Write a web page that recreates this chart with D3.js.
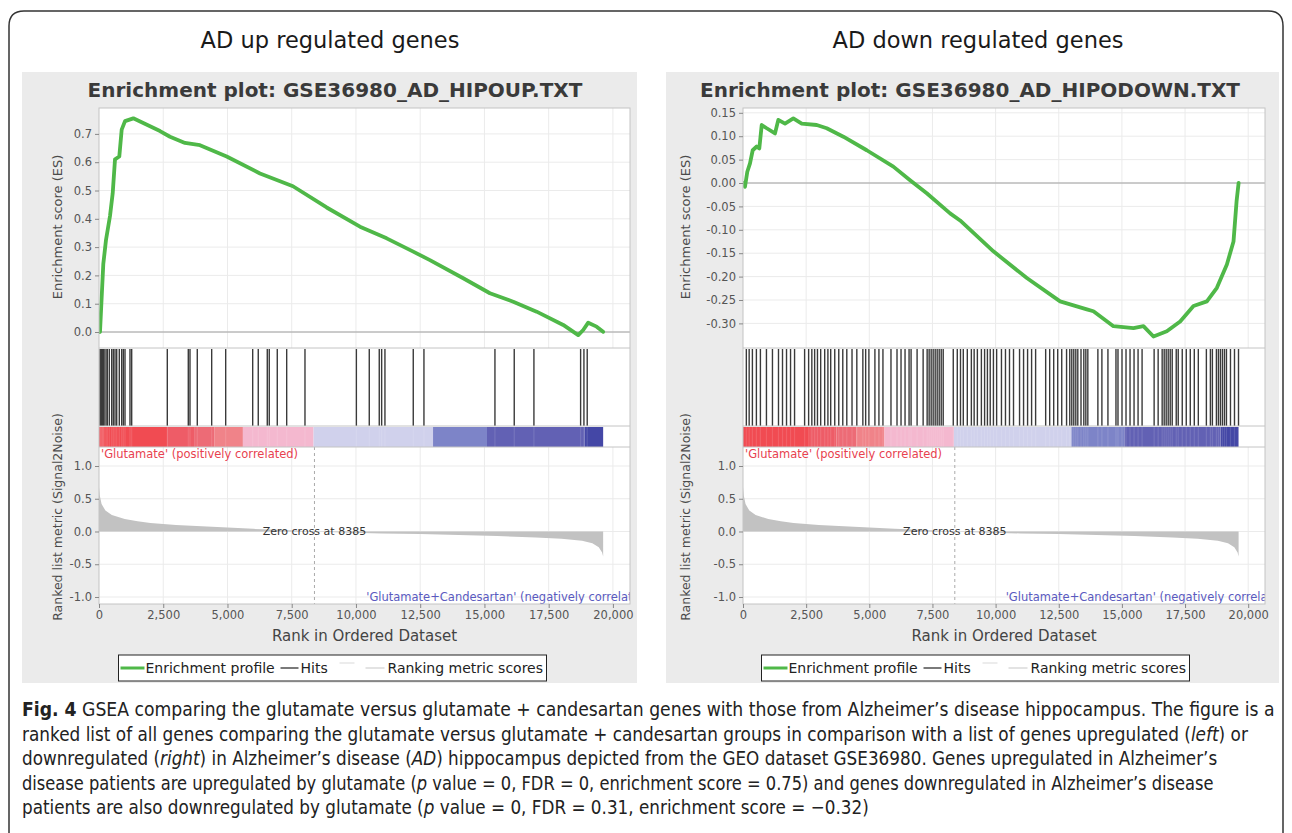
<!DOCTYPE html>
<html>
<head>
<meta charset="utf-8">
<script src="https://cdn.jsdelivr.net/npm/d3@7"></script>
<style>
  body { margin: 0; background: #fff; }
  text { font-family: "DejaVu Sans", sans-serif; }
</style>
</head>
<body>
<svg id="chart" width="1292" height="833"></svg>
<script>
// ---- data ----
const rankTicks = [0, 2500, 5000, 7500, 10000, 12500, 15000, 17500, 20000];
const upTicks = [0, 0.1, 0.2, 0.3, 0.4, 0.5, 0.6, 0.7];
const downTicks = [-0.30, -0.25, -0.20, -0.15, -0.10, -0.05, 0, 0.05, 0.10, 0.15];
const metricTicks = [-1, -0.5, 0, 0.5, 1];
const zeroCross = 8385;

// running enrichment score, [rank, ES]
const upES = [[0, 0], [39, 0.0], [105, 0.125], [167, 0.24], [272, 0.325], [428, 0.41], [533, 0.49],
  [623, 0.61], [790, 0.62], [883, 0.715], [1012, 0.745], [1335, 0.755], [2374, 0.71], [2763, 0.69],
  [3346, 0.668], [3930, 0.66], [4969, 0.62], [6265, 0.56], [7549, 0.515], [8860, 0.44], [10156, 0.372],
  [11195, 0.331], [12230, 0.284], [12879, 0.254], [14175, 0.19], [15214, 0.137], [16121, 0.107],
  [17031, 0.072], [18066, 0.025], [18650, -0.011], [18844, 0.007], [19039, 0.033], [19366, 0.019], [19620, 0.001]];

const downES = [[0, 0], [79, -0.008], [170, 0.024], [277, 0.042], [384, 0.07], [543, 0.078], [646, 0.074],
  [741, 0.124], [939, 0.117], [1267, 0.106], [1398, 0.135], [1663, 0.127], [1992, 0.138], [2325, 0.127],
  [2919, 0.124], [3315, 0.117], [3972, 0.099], [4899, 0.07], [5952, 0.035], [6614, 0.006], [7275, -0.022],
  [8198, -0.065], [8594, -0.08], [9913, -0.146], [11236, -0.203], [12554, -0.253], [13612, -0.27],
  [13873, -0.274], [14665, -0.306], [15457, -0.31], [15853, -0.306], [16250, -0.328], [16778, -0.317],
  [17307, -0.296], [17834, -0.263], [18364, -0.253], [18760, -0.224], [19156, -0.174], [19418, -0.125],
  [19540, -0.039], [19620, 0.0]];

// gene set hit positions (rank)
const upHits = [39, 70, 105, 140, 167, 200, 272, 323, 401, 494, 556, 623, 689, 790, 883, 946, 1012, 1206, 1272,
  2658, 3475, 3541, 3825, 4385, 4930, 5981, 6198, 6549, 6626, 6938, 7304, 8016, 10016, 10518, 10907, 11000,
  11128, 12230, 12646, 15409, 16160, 16926, 18743, 18872, 19000];

const downHits = [132, 244, 372, 530, 689, 928, 1166, 1405, 1564, 1723, 1882, 2041, 2439, 2598, 2725, 2836,
  2948, 3075, 3234, 3361, 3472, 3632, 3791, 3950, 4109, 4316, 4506, 4745, 4856, 4984, 5222, 5381, 5540, 5858,
  6097, 6256, 6415, 6574, 6654, 6892, 7131, 7290, 7369, 7449, 7528, 7608, 7687, 7767, 7847, 7926, 8324, 8483,
  8610, 8721, 8880, 9040, 9151, 9278, 9437, 9564, 9676, 9787, 9914, 10041, 10232, 10391, 10550, 10709, 10948,
  11107, 11266, 11425, 11584, 11982, 12141, 12300, 12459, 12618, 12809, 12936, 13016, 13095, 13175, 13254,
  13381, 13492, 13572, 13651, 14049, 14208, 14447, 14765, 14845, 15004, 15163, 15322, 15481, 15640, 15799,
  16276, 16435, 16594, 16674, 16753, 16833, 16912, 16992, 17151, 17230, 17389, 17548, 17707, 17866, 18025,
  18344, 18503, 18582, 18741, 18821, 18900, 18980, 19060, 19139, 19298, 19457, 19616];

// ranked list metric (Signal2Noise), [rank, value]
const metric = [[0, 0.68], [30, 0.55], [100, 0.42], [250, 0.32], [500, 0.25], [1000, 0.19], [1500, 0.155],
  [2000, 0.13], [3000, 0.1], [4000, 0.08], [5000, 0.06], [6000, 0.04], [7000, 0.025], [8385, 0],
  [9500, -0.015], [11000, -0.03], [12500, -0.04], [14000, -0.055], [15500, -0.07], [17000, -0.09],
  [18000, -0.11], [18800, -0.14], [19200, -0.18], [19450, -0.24], [19580, -0.32], [19620, -0.38]];

// heat bar bands (rank edges)
const barEdges = [0, 2650, 3700, 4500, 5600, 8350, 13000, 15100, 18900, 19620];

const captionLines = [
  [["Fig. 4", "b"], [" GSEA comparing the glutamate versus glutamate + candesartan genes with those from Alzheimer\u2019s disease hippocampus. The figure is a", ""]],
  [["ranked list of all genes comparing the glutamate versus glutamate + candesartan groups in comparison with a list of genes upregulated (", ""], ["left", "i"], [") or", ""]],
  [["downregulated (", ""], ["right", "i"], [") in Alzheimer\u2019s disease (", ""], ["AD", "i"], [") hippocampus depicted from the GEO dataset GSE36980. Genes upregulated in Alzheimer\u2019s", ""]],
  [["disease patients are upregulated by glutamate (", ""], ["p", "i"], [" value = 0, FDR = 0, enrichment score = 0.75) and genes downregulated in Alzheimer\u2019s disease", ""]],
  [["patients are also downregulated by glutamate (", ""], ["p", "i"], [" value = 0, FDR = 0.31, enrichment score = \u22120.32)", ""]]
];

// ---- drawing ----
const barColors = ["#f14b52", "#ee5c67", "#ed6b76", "#f08389", "#f4b8cf", "#d0d1ec", "#7d84c8", "#6261b4", "#4447a6"];
const svg = d3.select("#chart");
const defs = svg.append("defs");

svg.append("rect").attr("width", 1292).attr("height", 833).attr("fill", "#fff");
svg.append("path")
  .attr("d", "M9,833 V26 Q9,11 24,11 H1268 Q1283,11 1283,26 V833")
  .attr("fill", "none").attr("stroke", "#333").attr("stroke-width", 1.5);

function styleAxis(sel) {
  sel.select(".domain").remove();
  sel.selectAll(".tick line").attr("stroke", "#888");
  sel.selectAll(".tick text").attr("fill", "#555").attr("font-size", 11.5)
    .attr("font-family", "DejaVu Sans, sans-serif");
}

function drawPanel(p) {
  const top = 108, esBottom = 348, hitsBottom = 426, barBottom = 447, bottom = 604;
  const x = d3.scaleLinear().domain([0, 20665]).range([p.left, p.right]);
  const yES = d3.scaleLinear().domain(p.esDomain).range([esBottom, top]);
  const yM = d3.scaleLinear().domain([-1.107, 1.29]).range([bottom, barBottom]);
  const g = svg.append("g");
  const cx = p.panelX + p.panelW / 2;

  // heading above panel
  svg.append("text").attr("x", p.headX).attr("y", 48).attr("text-anchor", "middle")
    .attr("font-family", "Open Sans, sans-serif").attr("font-size", 22.5).attr("fill", "#1a1a1a")
    .text(p.heading);

  g.append("rect").attr("x", p.panelX).attr("y", 72).attr("width", p.panelW).attr("height", 611)
    .attr("fill", "#ebebeb");
  g.append("text").attr("x", p.titleX).attr("y", 97).attr("text-anchor", "middle")
    .attr("font-weight", "bold").attr("font-size", 20).attr("fill", "#3a3a3a").text(p.title);

  g.append("rect").attr("x", p.left).attr("y", top).attr("width", p.right - p.left)
    .attr("height", bottom - top).attr("fill", "#fff");

  const clipES = "clipES-" + p.id, clipM = "clipM-" + p.id;
  defs.append("clipPath").attr("id", clipES).append("rect")
    .attr("x", p.left).attr("y", top).attr("width", p.right - p.left).attr("height", esBottom - top);
  defs.append("clipPath").attr("id", clipM).append("rect")
    .attr("x", p.left).attr("y", barBottom).attr("width", p.right - p.left).attr("height", bottom - barBottom);

  // grid
  const grid = g.append("g").attr("stroke", "#ebebeb").attr("stroke-width", 1);
  grid.selectAll(null).data(rankTicks.slice(1)).enter().append("line")
    .attr("x1", d => x(d)).attr("x2", d => x(d)).attr("y1", top).attr("y2", esBottom);
  grid.selectAll(null).data(p.esTicks).enter().append("line")
    .attr("x1", p.left).attr("x2", p.right).attr("y1", d => yES(d)).attr("y2", d => yES(d));
  grid.selectAll(null).data(rankTicks.slice(1)).enter().append("line")
    .attr("x1", d => x(d)).attr("x2", d => x(d)).attr("y1", barBottom).attr("y2", bottom);
  grid.selectAll(null).data(metricTicks).enter().append("line")
    .attr("x1", p.left).attr("x2", p.right).attr("y1", d => yM(d)).attr("y2", d => yM(d));

  // ES zero line
  g.append("line").attr("x1", p.left).attr("x2", p.right).attr("y1", yES(0)).attr("y2", yES(0))
    .attr("stroke", "#a0a0a0");

  // enrichment profile
  const line = d3.line().x(d => x(d[0])).y(d => yES(d[1]));
  g.append("path").datum(p.es).attr("d", line).attr("clip-path", `url(#${clipES})`)
    .attr("fill", "none").attr("stroke", "#4fb848").attr("stroke-width", 3.8)
    .attr("stroke-linejoin", "round").attr("stroke-linecap", "round");

  // hits
  g.append("g").selectAll(null).data(p.hits).enter().append("line")
    .attr("x1", d => x(d)).attr("x2", d => x(d)).attr("y1", esBottom + 1).attr("y2", hitsBottom)
    .attr("stroke", "#3a3a3a").attr("stroke-width", 1.4);

  // heat bar
  g.append("g").selectAll(null).data(barColors).enter().append("rect")
    .attr("x", (d, i) => x(barEdges[i])).attr("width", (d, i) => x(barEdges[i + 1]) - x(barEdges[i]))
    .attr("y", hitsBottom + 1).attr("height", barBottom - hitsBottom - 1).attr("fill", d => d);
  g.append("g").selectAll(null).data(p.hits).enter().append("line")
    .attr("x1", d => x(d)).attr("x2", d => x(d)).attr("y1", hitsBottom + 1).attr("y2", barBottom)
    .attr("stroke", "#fff").attr("stroke-opacity", 0.12).attr("stroke-width", 1.2);

  // metric area
  const area = d3.area().x(d => x(d[0])).y0(yM(0)).y1(d => yM(d[1]));
  g.append("path").datum(metric).attr("d", area).attr("fill", "#c2c2c2");

  g.append("line").attr("x1", x(zeroCross)).attr("x2", x(zeroCross)).attr("y1", barBottom).attr("y2", bottom)
    .attr("stroke", "#aaa").attr("stroke-dasharray", "3,3");
  g.append("text").attr("x", x(zeroCross)).attr("y", yM(0) + 4).attr("text-anchor", "middle")
    .attr("font-size", 11).attr("fill", "#333").text("Zero cross at " + zeroCross);

  g.append("text").attr("x", p.left + 2).attr("y", barBottom + 11).attr("font-size", 11.5)
    .attr("fill", "#e8424f").text("'Glutamate' (positively correlated)");
  g.append("text").attr("x", x(10400)).attr("y", yM(-1) + 4.5).attr("font-size", 11.5)
    .attr("fill", "#5a5abf").attr("clip-path", `url(#${clipM})`)
    .text("'Glutamate+Candesartan' (negatively correlated)");

  // frames
  const fr = g.append("g").attr("stroke", "#c4c4c4").attr("fill", "none");
  fr.append("rect").attr("x", p.left).attr("y", top).attr("width", p.right - p.left).attr("height", bottom - top);
  [esBottom, hitsBottom, barBottom].forEach(v => {
    fr.append("line").attr("x1", p.left).attr("x2", p.right).attr("y1", v).attr("y2", v);
  });

  // axes
  g.append("g").attr("transform", `translate(${p.left},0)`)
    .call(d3.axisLeft(yES).tickValues(p.esTicks).tickFormat(d => d.toFixed(p.digits)).tickSize(4).tickPadding(3))
    .call(styleAxis);
  g.append("g").attr("transform", `translate(${p.left},0)`)
    .call(d3.axisLeft(yM).tickValues(metricTicks).tickFormat(d => d.toFixed(1)).tickSize(4).tickPadding(3))
    .call(styleAxis);
  g.append("g").attr("transform", `translate(0,${bottom})`)
    .call(d3.axisBottom(x).tickValues(rankTicks).tickFormat(d3.format(",")).tickSize(4).tickPadding(3))
    .call(styleAxis);

  // axis titles
  g.append("text").attr("transform", `translate(${p.labelX},227) rotate(-90)`).attr("text-anchor", "middle")
    .attr("font-size", 13).attr("fill", "#4a4a4a").text("Enrichment score (ES)");
  g.append("text").attr("transform", `translate(${p.labelX},517) rotate(-90)`).attr("text-anchor", "middle")
    .attr("font-size", 12.5).attr("fill", "#4a4a4a").text("Ranked list metric (Signal2Noise)");
  g.append("text").attr("x", (p.left + p.right) / 2).attr("y", 641).attr("text-anchor", "middle")
    .attr("font-size", 15).attr("fill", "#444").text("Rank in Ordered Dataset");

  // legend
  const lx = cx + 3 - 214, ly = 668;
  const lg = g.append("g").attr("transform", `translate(${lx},${ly})`);
  lg.append("rect").attr("x", 0).attr("y", -13).attr("width", 428).attr("height", 26)
    .attr("fill", "#fff").attr("stroke", "#222");
  lg.append("line").attr("x1", 2).attr("x2", 26).attr("stroke", "#4fb848").attr("stroke-width", 3);
  lg.append("text").attr("x", 27).attr("y", 5).attr("font-size", 14).attr("fill", "#222").text("Enrichment profile");
  lg.append("line").attr("x1", 162).attr("x2", 180).attr("stroke", "#222").attr("stroke-width", 1.2);
  lg.append("text").attr("x", 182).attr("y", 5).attr("font-size", 14).attr("fill", "#222").text("Hits");
  lg.append("line").attr("x1", 221).attr("x2", 236).attr("y1", -5).attr("y2", -5).attr("stroke", "#e6e6e6").attr("stroke-width", 1.5);
  lg.append("line").attr("x1", 247).attr("x2", 266).attr("stroke", "#d0d0d0").attr("stroke-width", 1.2);
  lg.append("text").attr("x", 269).attr("y", 5).attr("font-size", 14).attr("fill", "#222").text("Ranking metric scores");
}

drawPanel({
  id: "up", heading: "AD up regulated genes", headX: 330, panelX: 22, panelW: 615, titleX: 335,
  title: "Enrichment plot: GSE36980_AD_HIPOUP.TXT", left: 99, right: 630, labelX: 62,
  es: upES, hits: upHits, esTicks: upTicks, esDomain: [-0.0565, 0.7915], digits: 1
});
drawPanel({
  id: "down", heading: "AD down regulated genes", headX: 978, panelX: 666, panelW: 613, titleX: 970,
  title: "Enrichment plot: GSE36980_AD_HIPODOWN.TXT", left: 743, right: 1265, labelX: 690,
  es: downES, hits: downHits, esTicks: downTicks, esDomain: [-0.3526, 0.1603], digits: 2
});

// caption: each line squeezed horizontally to its width in the figure (condensed face)
const capWidths = [1254, 1227, 1196, 1192];
const cap = svg.append("g");
const capTexts = captionLines.map((parts) => {
  const t = cap.append("text").attr("x", 0).attr("y", 0)
    .attr("font-family", "Noto Sans, sans-serif").attr("font-size", 20).attr("fill", "#222");
  parts.forEach(([s, st]) => {
    const ts = t.append("tspan").text(s);
    if (st === "b") ts.attr("font-weight", "bold");
    if (st === "i") ts.attr("font-style", "italic");
  });
  return t;
});
const ratios = capWidths.map((w, i) => w / capTexts[i].node().getComputedTextLength());
const meanRatio = d3.mean(ratios);
capTexts.forEach((t, i) => {
  const r = i < ratios.length ? ratios[i] : meanRatio;
  t.attr("transform", `translate(22,${716 + i * 24.5}) scale(${r},1)`);
});
</script>
</body>
</html>
